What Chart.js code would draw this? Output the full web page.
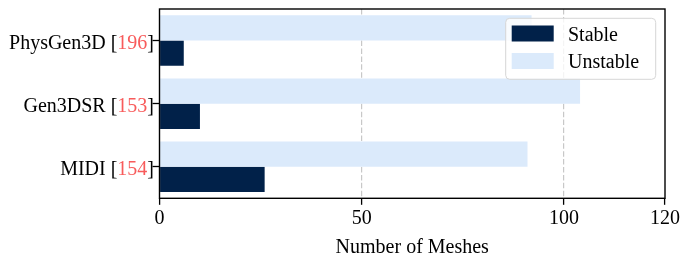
<!DOCTYPE html>
<html>
<head>
<meta charset="utf-8">
<script src="https://cdn.jsdelivr.net/npm/chart.js@4.4.1/dist/chart.umd.min.js"></script>
<style>
  html, body { margin: 0; padding: 0; background: #fff; }
  #wrap { width: 682px; height: 256px; position: relative; }
</style>
</head>
<body>
<div id="wrap"><canvas id="meshChart"></canvas></div>
<script>
// Methods and the reference numbers shown next to them
const methods = ['PhysGen3D', 'Gen3DSR', 'MIDI'];
const refs = ['196', '153', '154'];

// Mesh counts per method
const stable = [6, 10, 26];
const unstable = [92, 104, 91];

// x axis ticks (the last one sits on the right edge of the frame)
const xTickValues = [0, 50, 100, 125];
const xTickLabels = ['0', '50', '100', '120'];
const xMax = 125;

const navy = '#012149';
const lightBlue = '#dbeafb';
const refRed = '#f85b5b';
const serif = "'Liberation Serif', 'Times New Roman', serif";

Chart.defaults.font.family = serif;
Chart.defaults.font.size = 20;
Chart.defaults.color = '#000';

// y labels drawn by hand so the reference number can be red
const methodLabels = {
    id: 'methodLabels',
    afterDraw(chart) {
        const ctx = chart.ctx;
        const yScale = chart.scales.y;
        ctx.save();
        ctx.font = '20px ' + serif;
        ctx.textBaseline = 'alphabetic';
        ctx.textAlign = 'left';
        methods.forEach((name, i) => {
            const y = yScale.getPixelForTick(i) + 8.5;
            const parts = [[name + ' [', '#000'], [refs[i], refRed], [']', '#000']];
            const total = parts.reduce((w, p) => w + ctx.measureText(p[0]).width, 0);
            let x = yScale.right - 5.5 - total;
            parts.forEach(([txt, col]) => {
                ctx.fillStyle = col;
                ctx.fillText(txt, x, y);
                x += ctx.measureText(txt).width;
            });
        });
        ctx.restore();
    }
};

// Black frame round the plot and the legend in the top right corner
const frameAndLegend = {
    id: 'frameAndLegend',
    afterDraw(chart) {
        const { ctx, chartArea: a } = chart;
        ctx.save();
        ctx.strokeStyle = '#000';
        ctx.lineWidth = 1.4;
        ctx.strokeRect(a.left, a.top, a.right - a.left, a.bottom - a.top);

        const lx = a.right - 159.3, ly = a.top + 9.3, lw = 150, lh = 61;
        ctx.beginPath();
        ctx.roundRect(lx, ly, lw, lh, 4);
        ctx.fillStyle = 'rgba(255,255,255,0.8)';
        ctx.fill();
        ctx.strokeStyle = '#d6d6d6';
        ctx.lineWidth = 1;
        ctx.stroke();

        ctx.font = '20px ' + serif;
        ctx.textBaseline = 'alphabetic';
        ctx.textAlign = 'left';
        chart.data.datasets.slice().reverse().forEach((ds, i) => {
            const cy = ly + 15.2 + i * 27.5;
            ctx.fillStyle = ds.backgroundColor;
            ctx.fillRect(lx + 6, cy - 8, 42, 16);
            ctx.fillStyle = '#000';
            ctx.fillText(ds.label, lx + 62.3, cy + 7);
        });
        ctx.restore();
    }
};

new Chart(document.getElementById('meshChart'), {
    type: 'bar',
    data: {
        labels: methods,
        datasets: [
            { label: 'Unstable', data: unstable, backgroundColor: lightBlue },
            { label: 'Stable', data: stable, backgroundColor: navy }
        ]
    },
    options: {
        indexAxis: 'y',
        responsive: true,
        maintainAspectRatio: false,
        animation: false,
        layout: { padding: { top: 9, right: 16, left: 0, bottom: 0 } },
        datasets: { bar: { categoryPercentage: 0.8, barPercentage: 1 } },
        plugins: { legend: { display: false }, tooltip: { enabled: false } },
        scales: {
            x: {
                min: 0,
                max: xMax,
                afterBuildTicks: s => { s.ticks = xTickValues.map(v => ({ value: v })); },
                afterFit: s => { s.height = 57.7; },
                ticks: { autoSkip: false, maxRotation: 0, padding: 2, callback: (v, i) => xTickLabels[i] },
                grid: {
                    color: c => (c.tick && (c.tick.value === 0 || c.tick.value === xMax)) ? 'rgba(0,0,0,0)' : '#c8c8c8',
                    lineWidth: 1.2,
                    tickColor: '#000',
                    tickLength: 6.5,
                    tickWidth: 1.3
                },
                border: { display: false, dash: [5.5, 2.4] },
                title: { display: true, text: 'Number of Meshes', padding: { top: -4, bottom: -4 } }
            },
            y: {
                afterFit: s => { s.width = 159.5; },
                ticks: { display: false },
                grid: { offset: false, drawOnChartArea: false, tickColor: '#000', tickLength: 7, tickWidth: 1.3 },
                border: { display: false }
            }
        }
    },
    plugins: [methodLabels, frameAndLegend]
});
</script>
</body>
</html>
